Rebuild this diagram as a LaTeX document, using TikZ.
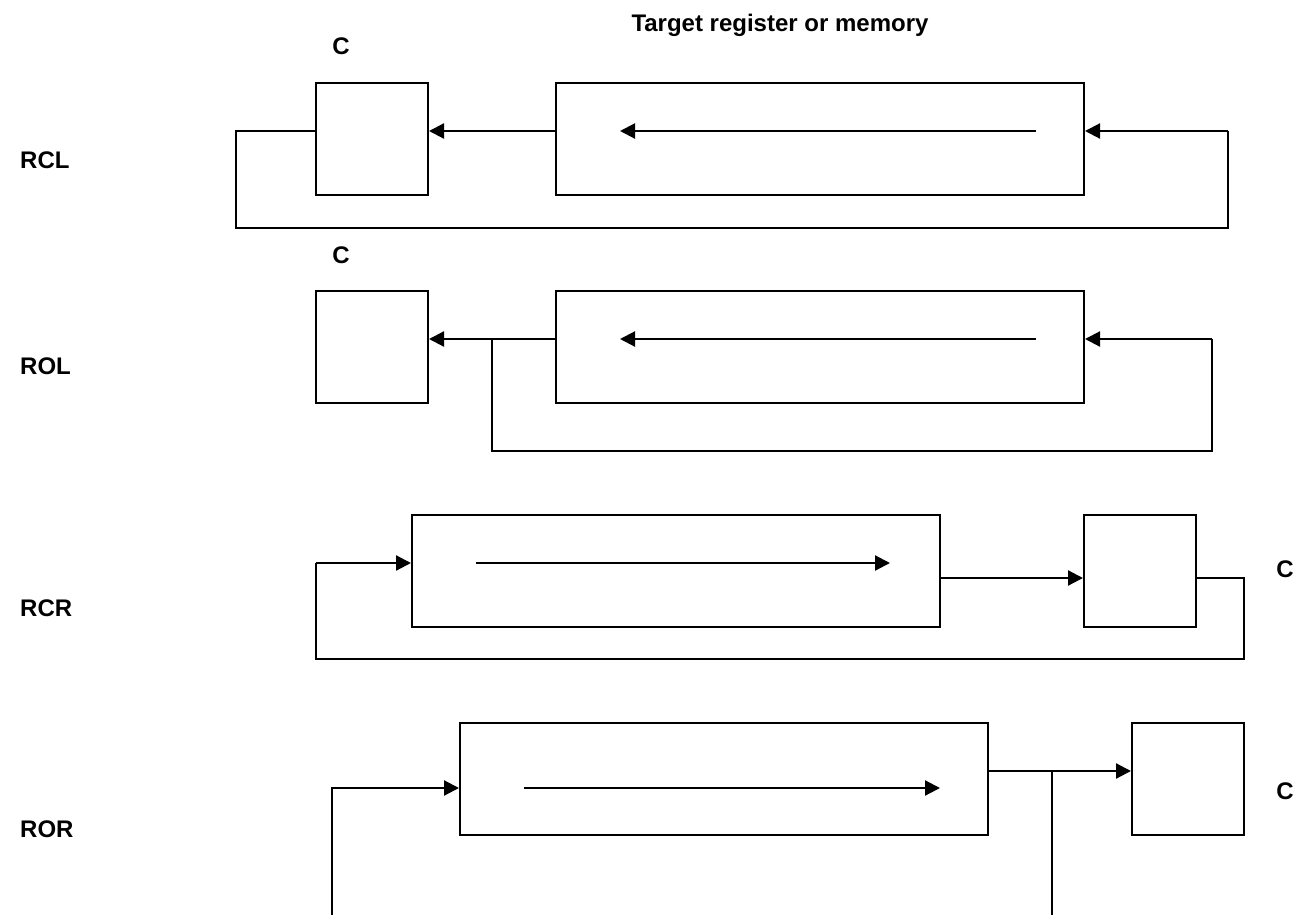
\documentclass[tikz,border=0pt]{standalone}
\usepackage{fontspec}
\setmainfont{Liberation Sans}
\usetikzlibrary{arrows.meta}
\begin{document}
\begin{tikzpicture}[x=1pt,y=-1pt,
  box/.style={draw,line width=2pt,rectangle,inner sep=0pt},
  wire/.style={line width=2.2pt},
  arr/.style={line width=2.2pt,-{Triangle[length=15pt,width=15pt]}},
  lbl/.style={font=\fontsize{24}{28}\selectfont\bfseries,inner sep=0pt}]
\useasboundingbox (0,0) rectangle (1295,915);
% texts
\node[lbl] (title) at (780,25) {Target register or memory};
\node[lbl] (c1) at (341,46) {C};
\node[lbl] (c2) at (341,255) {C};
\node[lbl,anchor=west] (l1) at (20,160) {RCL};
\node[lbl,anchor=west] (l2) at (20,366) {ROL};
\node[lbl,anchor=west] (l3) at (20,608) {RCR};
\node[lbl,anchor=west] (l4) at (20,829) {ROR};
\node[lbl,anchor=east] (c3) at (1294,569) {C};
\node[lbl,anchor=east] (c4) at (1294,791) {C};
% RCL
\node[box,minimum width=112pt,minimum height=112pt] (cb1) at (372,139) {};
\node[box,minimum width=528pt,minimum height=112pt] (rb1) at (820,139) {};
\coordinate (i1a) at (1036,131);
\coordinate (i1b) at (620,131);
\coordinate (f1r) at (1228,131);
\coordinate (f1l) at (236,131);
\draw[arr] (i1a) -- (i1b);
\draw[arr] (rb1.west|-i1a) -- (cb1.east|-i1a);
\draw[arr] (f1r) -- (rb1.east|-f1r);
\draw[wire] (cb1.west|-f1l) -- (f1l) -- (236,228) -- (1228,228) -- (f1r);
% ROL
\node[box,minimum width=112pt,minimum height=112pt] (cb2) at (372,347) {};
\node[box,minimum width=528pt,minimum height=112pt] (rb2) at (820,347) {};
\coordinate (i2a) at (1036,339);
\coordinate (i2b) at (620,339);
\coordinate (f2r) at (1212,339);
\coordinate (f2b) at (492,339);
\draw[arr] (i2a) -- (i2b);
\draw[arr] (rb2.west|-i2a) -- (cb2.east|-i2a);
\draw[arr] (f2r) -- (rb2.east|-f2r);
\draw[wire] (f2b) -- (492,451) -- (1212,451) -- (f2r);
% RCR
\node[box,minimum width=528pt,minimum height=112pt] (rb3) at (676,571) {};
\node[box,minimum width=112pt,minimum height=112pt] (cb3) at (1140,571) {};
\coordinate (i3a) at (476,563);
\coordinate (i3b) at (890,563);
\coordinate (f3l) at (316,563);
\coordinate (m3) at (1012,578);
\coordinate (f3r) at (1244,578);
\draw[arr] (i3a) -- (i3b);
\draw[arr] (rb3.east|-m3) -- (cb3.west|-m3);
\draw[arr] (f3l) -- (rb3.west|-f3l);
\draw[wire] (cb3.east|-f3r) -- (f3r) -- (1244,659) -- (316,659) -- (f3l);
% ROR
\node[box,minimum width=528pt,minimum height=112pt] (rb4) at (724,779) {};
\node[box,minimum width=112pt,minimum height=112pt] (cb4) at (1188,779) {};
\coordinate (i4a) at (524,788);
\coordinate (i4b) at (940,788);
\coordinate (m4) at (1052,771);
\coordinate (e4) at (1052,915);
\coordinate (s4) at (332,915);
\coordinate (t4) at (332,788);
\draw[arr] (i4a) -- (i4b);
\draw[arr] (rb4.east|-m4) -- (cb4.west|-m4);
\draw[wire] (m4) -- (e4);
\draw[arr] (s4) -- (t4) -- (rb4.west|-t4);
\end{tikzpicture}
\end{document}
